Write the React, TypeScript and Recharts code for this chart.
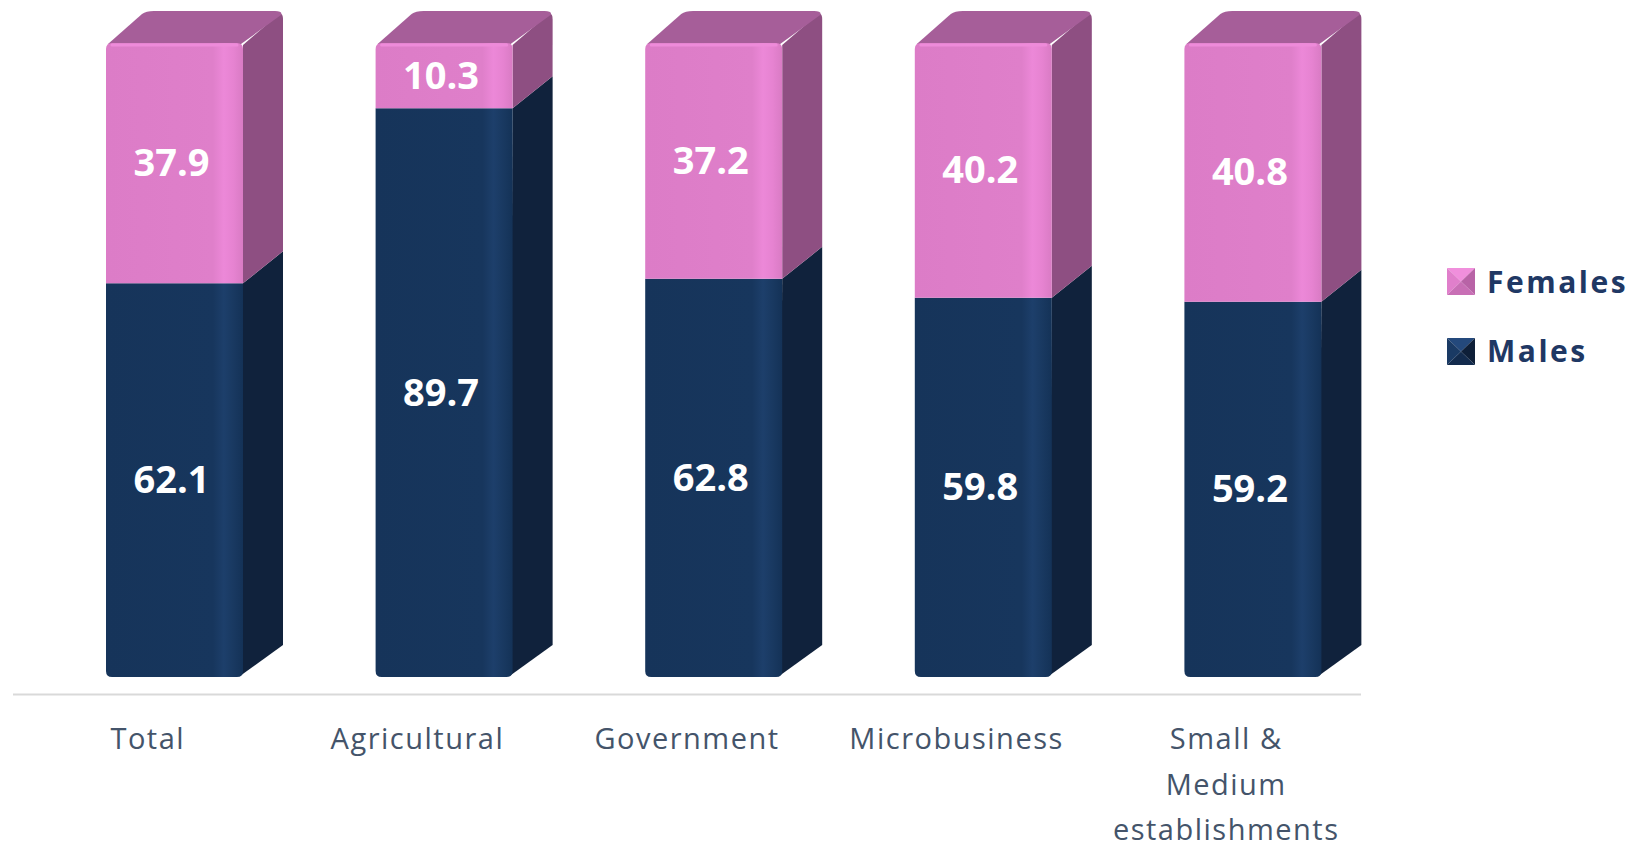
import { BarChart, Bar, XAxis, YAxis, Legend, LabelList, ReferenceLine } from 'recharts'

const categories = ['Total', 'Agricultural', 'Government', 'Microbusiness', 'Small & Medium establishments']
const tickLines = [['Total'], ['Agricultural'], ['Government'], ['Microbusiness'], ['Small &', 'Medium', 'establishments']]
const males = [62.1, 89.7, 62.8, 59.8, 59.2]
const females = [37.9, 10.3, 37.2, 40.2, 40.8]

const data = categories.map((name, i) => ({ name, males: males[i], females: females[i] }))
const linesByName: Record<string, string[]> = {}
categories.forEach((c, i) => (linesByName[c] = tickLines[i]))

// depth of the fake 3d extrusion, and how far the front face sits right of the band centre
const DX = 40
const DY = 32
const SHIFT = 27
const R = 6
// the floor line sits a little below the bars
const FLOOR = -2.76

const PINK = { front: '#de7ec9', side: '#8e4f82', top: '#a65e99', rim: '#ee8bda', grad: 'gradPink' }
const NAVY = { front: '#17365d', side: '#10223c', top: '#1a3a63', rim: '#22467a', grad: 'gradNavy' }

function makeBlock(c: typeof PINK, isTop: boolean) {
  return (props: any) => {
    const { x, y, width: w, height: h } = props
    if (!w || !h) return null
    const fx = x + SHIFT
    const front = isTop
      ? `M${fx},${y + h} L${fx},${y + R} Q${fx},${y} ${fx + R},${y} L${fx + w - R},${y} Q${fx + w},${y} ${fx + w},${y + R} L${fx + w},${y + h} Z`
      : `M${fx},${y} L${fx},${y + h - R} Q${fx},${y + h} ${fx + R},${y + h} L${fx + w - R},${y + h} Q${fx + w},${y + h} ${fx + w},${y + h - R} L${fx + w},${y} Z`
    const side = isTop
      ? `M${fx + w},${y + h} L${fx + w},${y + 2} L${fx + w + DX - 4},${y - DY + 3} Q${fx + w + DX},${y - DY + 2} ${fx + w + DX},${y - DY + 8} L${fx + w + DX},${y + h - DY} Z`
      : `M${fx + w},${y} L${fx + w + DX},${y - DY} L${fx + w + DX},${y + h - DY} L${fx + w - 3},${y + h - 1} Z`
    const top = `M${fx + 2},${y + 1} L${fx + DX - 4},${y - DY + 3} Q${fx + DX},${y - DY} ${fx + DX + 8},${y - DY} L${fx + w + DX - 8},${y - DY} Q${fx + w + DX},${y - DY} ${fx + w + DX - 2},${y - DY + 4} L${fx + w - 2},${y + 1} Z`
    return (
      <g>
        <path d={side} fill={c.side} />
        {isTop && <path d={top} fill={c.top} />}
        <path d={front} fill={`url(#${c.grad})`} />
        {isTop && (
          <line x1={fx + R} y1={y + 2} x2={fx + w - R} y2={y + 2} stroke={c.rim} strokeWidth={3} strokeLinecap="round" />
        )}
      </g>
    )
  }
}

function ValueLabel(props: any) {
  const { x, y, width, height, value } = props
  return (
    <text
      x={x + SHIFT + width / 2 - 3}
      y={y + height / 2}
      dy={13}
      textAnchor="middle"
      fill="#ffffff"
      fontFamily="Open Sans"
      fontWeight={700}
      fontSize={38}
    >
      {value}
    </text>
  )
}

function CategoryTick(props: any) {
  const { x, y, payload } = props
  const lines = linesByName[payload.value] || [payload.value]
  return (
    <text x={x} y={y} textAnchor="middle" fill="#44546a" fontFamily="Open Sans" fontSize={29} letterSpacing={1.5}>
      {lines.map((l, i) => (
        <tspan key={i} x={x} dy={i === 0 ? 72 : 45.5}>
          {l}
        </tspan>
      ))}
    </text>
  )
}

function LegendSquare({ light, mid, dark, base }: { light: string; mid: string; dark: string; base: string }) {
  return (
    <svg width={28} height={27} style={{ position: 'absolute', left: 0, top: 0 }}>
      <polygon points="0,0 28,0 14,13.5" fill={light} />
      <polygon points="0,0 14,13.5 0,27" fill={mid} />
      <polygon points="28,0 28,27 14,13.5" fill={dark} />
      <polygon points="0,27 14,13.5 28,27" fill={base} />
    </svg>
  )
}

const legendText: React.CSSProperties = {
  position: 'absolute',
  left: 40,
  fontFamily: 'Open Sans',
  fontWeight: 700,
  fontSize: 30,
  lineHeight: '30px',
  letterSpacing: 2.5,
  color: '#1f3864',
  whiteSpace: 'nowrap',
}

function LegendBox() {
  return (
    <div style={{ position: 'relative', width: 200, height: 110 }}>
      <div style={{ position: 'absolute', left: 0, top: 0, width: 28, height: 27 }}>
        <LegendSquare light="#f08fdc" mid="#e07fcb" dark="#b863a6" base="#c86fb5" />
      </div>
      <div style={{ ...legendText, top: -1 }}>Females</div>
      <div style={{ position: 'absolute', left: 0, top: 70, width: 28, height: 27 }}>
        <LegendSquare light="#24497c" mid="#1a3a64" dark="#0e1f38" base="#132b4d" />
      </div>
      <div style={{ ...legendText, top: 68 }}>Males</div>
    </div>
  )
}

export default function App() {
  return (
    <div style={{ position: 'absolute', left: 0, top: 0, background: '#ffffff', fontFamily: 'Open Sans' }}>
      <BarChart width={1650} height={848} data={data} margin={{ top: 43, right: 289, bottom: 0, left: 13 }}>
        <defs>
          <linearGradient id="gradPink" x1="0" y1="0" x2="1" y2="0">
            <stop offset="0" stopColor="#dc7cc7" />
            <stop offset="0.78" stopColor="#df7fca" />
            <stop offset="0.86" stopColor="#ec88d8" />
            <stop offset="0.93" stopColor="#e683d1" />
            <stop offset="1" stopColor="#d97bc4" />
          </linearGradient>
          <linearGradient id="gradNavy" x1="0" y1="0" x2="1" y2="0">
            <stop offset="0" stopColor="#16345a" />
            <stop offset="0.78" stopColor="#17365d" />
            <stop offset="0.86" stopColor="#1d3f6b" />
            <stop offset="0.93" stopColor="#193961" />
            <stop offset="1" stopColor="#143257" />
          </linearGradient>
        </defs>
        <XAxis
          dataKey="name"
          height={171}
          interval={0}
          tickLine={false}
          tickSize={0}
          tickMargin={0}
          axisLine={false}
          tick={<CategoryTick />}
        />
        <YAxis hide domain={[0, 100]} />
        <ReferenceLine y={FLOOR} ifOverflow="visible" stroke="#d9d9d9" strokeWidth={2} />
        <Legend
          layout="vertical"
          align="center"
          verticalAlign="middle"
          wrapperStyle={{ left: 1447, top: 268, width: 200, height: 110 }}
          content={() => <LegendBox />}
        />
        <Bar dataKey="males" name="Males" stackId="a" barSize={137} fill={NAVY.front} shape={makeBlock(NAVY, false)} isAnimationActive={false}>
          <LabelList dataKey="males" content={<ValueLabel />} />
        </Bar>
        <Bar dataKey="females" name="Females" stackId="a" barSize={137} fill={PINK.front} shape={makeBlock(PINK, true)} isAnimationActive={false}>
          <LabelList dataKey="females" content={<ValueLabel />} />
        </Bar>
      </BarChart>
    </div>
  )
}
